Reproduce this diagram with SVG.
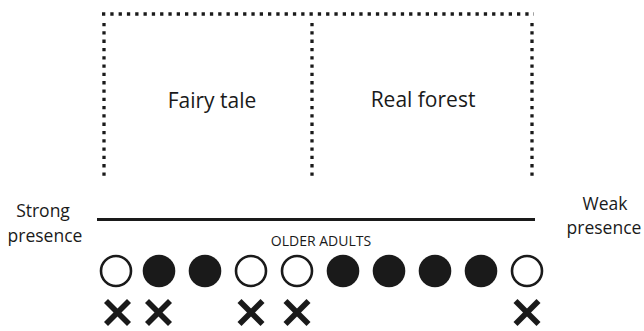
<svg xmlns="http://www.w3.org/2000/svg" width="644" height="331" viewBox="0 0 644 331">
  <style>
    .dot { fill: none; stroke: #1a1a1a; stroke-width: 3.3; stroke-dasharray: 3.3 5; }
    .lbl { font-family: "Open Sans", "Liberation Sans", sans-serif; fill: #1a1a1a; }
    .open { fill: #fff; stroke: #1a1a1a; stroke-width: 2.6; }
    .full { fill: #1a1a1a; }
    .x { stroke: #1a1a1a; stroke-width: 5.6; }
  </style>
  <defs>
    <g id="cross"><line class="x" x1="-11.5" y1="-11.5" x2="11.5" y2="11.5"/><line class="x" x1="-11.5" y1="11.5" x2="11.5" y2="-11.5"/></g>
  </defs>

  <!-- dotted frame -->
  <g id="frame">
    <line class="dot" x1="102" y1="14" x2="534" y2="14"/>
    <line class="dot" x1="104" y1="23" x2="104" y2="176"/>
    <line class="dot" x1="312" y1="23" x2="312" y2="176"/>
    <line class="dot" x1="532" y1="23" x2="532" y2="180"/>
  </g>

  <g id="fairy-tale"><text class="lbl" x="212" y="108" font-size="21" text-anchor="middle">Fairy tale</text></g>
  <g id="real-forest"><text class="lbl" x="423" y="107" font-size="21" text-anchor="middle">Real forest</text></g>

  <!-- scale axis -->
  <g id="axis">
    <line x1="97" y1="219.5" x2="535" y2="219.5" stroke="#1a1a1a" stroke-width="3"/>
    <text class="lbl" x="321" y="246" font-size="14" text-anchor="middle">OLDER ADULTS</text>
  </g>
  <g id="strong"><text class="lbl" font-size="17.5" text-anchor="middle"><tspan x="43" y="217">Strong</tspan><tspan x="45" y="242">presence</tspan></text></g>
  <g id="weak"><text class="lbl" font-size="17.5" text-anchor="middle"><tspan x="605" y="210">Weak</tspan><tspan x="604" y="234">presence</tspan></text></g>

  <!-- participants -->
  <g id="people">
    <circle class="open" cx="116" cy="271" r="15"/>
    <circle class="full" cx="159" cy="271" r="16.3"/>
    <circle class="full" cx="205" cy="271" r="16.3"/>
    <circle class="open" cx="251" cy="271" r="15"/>
    <circle class="open" cx="297" cy="271" r="15"/>
    <circle class="full" cx="343" cy="271" r="16.3"/>
    <circle class="full" cx="389" cy="271" r="16.3"/>
    <circle class="full" cx="435" cy="271" r="16.3"/>
    <circle class="full" cx="481" cy="271" r="16.3"/>
    <circle class="open" cx="527" cy="271" r="15"/>
  </g>
  <g id="marks">
    <use href="#cross" x="117.5" y="312.5"/>
    <use href="#cross" x="158.5" y="312.5"/>
    <use href="#cross" x="251" y="312.5"/>
    <use href="#cross" x="297" y="312.5"/>
    <use href="#cross" x="527" y="312.5"/>
  </g>
</svg>
